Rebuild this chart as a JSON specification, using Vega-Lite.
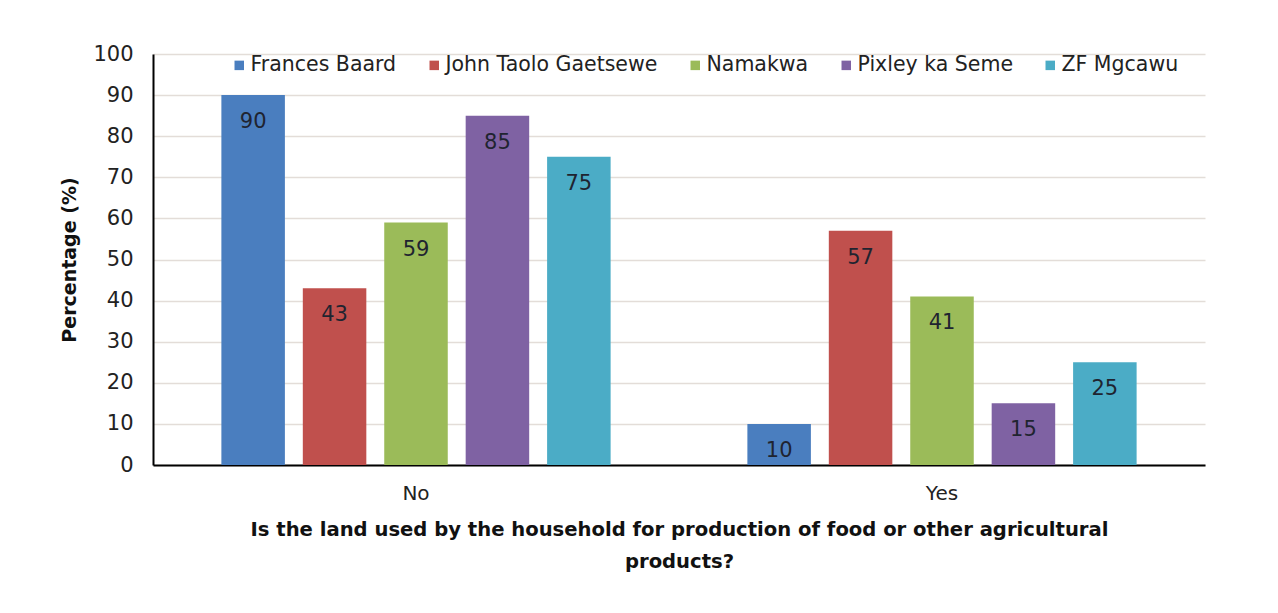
{
  "$schema": "https://vega.github.io/schema/vega-lite/v6.json",
  "width": 1052,
  "height": 411,
  "autosize": {"type": "none"},
  "padding": {"left": 153, "top": 54, "right": 73, "bottom": 148},
  "background": "white",
  "data": {
    "values": [
      {"answer": "No", "district": "Frances Baard", "pct": 90},
      {"answer": "No", "district": "John Taolo Gaetsewe", "pct": 43},
      {"answer": "No", "district": "Namakwa", "pct": 59},
      {"answer": "No", "district": "Pixley ka Seme", "pct": 85},
      {"answer": "No", "district": "ZF Mgcawu", "pct": 75},
      {"answer": "Yes", "district": "Frances Baard", "pct": 10},
      {"answer": "Yes", "district": "John Taolo Gaetsewe", "pct": 57},
      {"answer": "Yes", "district": "Namakwa", "pct": 41},
      {"answer": "Yes", "district": "Pixley ka Seme", "pct": 15},
      {"answer": "Yes", "district": "ZF Mgcawu", "pct": 25}
    ]
  },
  "encoding": {
    "x": {
      "field": "answer",
      "type": "nominal",
      "sort": ["No", "Yes"],
      "scale": {"paddingInner": 0.26, "paddingOuter": 0.13},
      "axis": {
        "labelAngle": 0,
        "labelFontSize": 20,
        "labelPadding": 18,
        "ticks": false,
        "domainColor": "#000000",
        "domainWidth": 2,
        "title": ["Is the land used by the household for production of food or other agricultural", "products?"],
        "titleFontSize": 19.6,
        "titleFontWeight": "bold",
        "titleLineHeight": 32,
        "titlePadding": 17
      }
    },
    "xOffset": {
      "field": "district",
      "type": "nominal",
      "sort": ["Frances Baard", "John Taolo Gaetsewe", "Namakwa", "Pixley ka Seme", "ZF Mgcawu"],
      "scale": {"paddingInner": 0.22, "paddingOuter": 0}
    },
    "y": {
      "field": "pct",
      "type": "quantitative",
      "scale": {"domain": [0, 100]},
      "axis": {
        "values": [0, 10, 20, 30, 40, 50, 60, 70, 80, 90, 100],
        "labelFontSize": 21,
        "labelPadding": 20,
        "ticks": false,
        "domainColor": "#000000",
        "domainWidth": 2,
        "gridColor": "#e3ddd8",
        "gridWidth": 1.5,
        "title": "Percentage (%)",
        "titleFontSize": 19,
        "titleFontWeight": "bold",
        "titlePadding": 13
      }
    }
  },
  "layer": [
    {
      "mark": {"type": "bar"},
      "encoding": {
        "color": {
          "field": "district",
          "type": "nominal",
          "sort": ["Frances Baard", "John Taolo Gaetsewe", "Namakwa", "Pixley ka Seme", "ZF Mgcawu"],
          "scale": {
            "domain": ["Frances Baard", "John Taolo Gaetsewe", "Namakwa", "Pixley ka Seme", "ZF Mgcawu"],
            "range": ["#4A7EBF", "#C0504D", "#9BBB59", "#7F62A3", "#4BACC6"]
          },
          "legend": {
            "title": null,
            "orient": "none",
            "legendX": 76,
            "legendY": 1,
            "direction": "horizontal",
            "symbolType": "square",
            "symbolSize": 90,
            "labelFontSize": 20.5,
            "labelLimit": 400,
            "labelOffset": 1,
            "columnPadding": 27,
            "labelColor": "#222222"
          }
        }
      }
    },
    {
      "mark": {"type": "text", "baseline": "top", "dy": 16, "fontSize": 21, "color": "#1f2430"},
      "encoding": {"text": {"field": "pct", "type": "quantitative"}}
    }
  ],
  "config": {
    "font": "DejaVu Sans",
    "view": {"stroke": null},
    "axis": {"labelColor": "#222222", "titleColor": "#111111"}
  }
}
